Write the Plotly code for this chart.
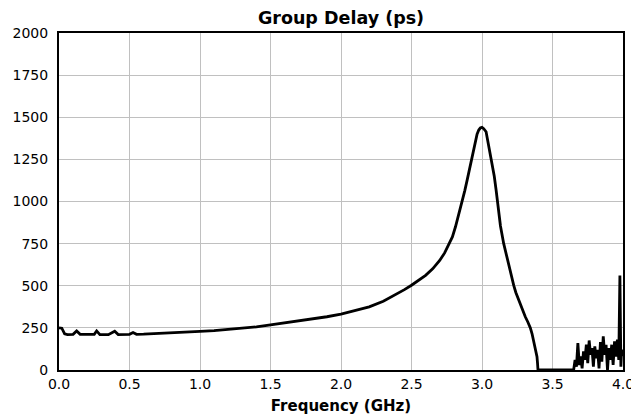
import plotly.graph_objects as go

# Main group-delay trace (frequency in GHz, delay in ps)
freq_main = [0.00, 0.02, 0.04, 0.06, 0.10, 0.125, 0.15, 0.20, 0.25, 0.267, 0.29, 0.35,
             0.395, 0.42, 0.50, 0.525, 0.55, 0.60, 0.70, 0.80, 0.90, 1.00, 1.10, 1.20,
             1.30, 1.40, 1.50, 1.60, 1.70, 1.80, 1.90, 2.00, 2.10, 2.20, 2.30, 2.40,
             2.45, 2.50, 2.55, 2.60, 2.65, 2.70, 2.735, 2.765, 2.79, 2.812, 2.835, 2.859,
             2.878, 2.895, 2.91, 2.925, 2.94, 2.953, 2.965, 2.977, 2.988, 3.00, 3.012,
             3.029, 3.045, 3.06, 3.073, 3.087, 3.10, 3.115, 3.131, 3.154, 3.17, 3.189,
             3.205, 3.225, 3.24, 3.26, 3.285, 3.307, 3.325, 3.343, 3.355, 3.366, 3.378,
             3.39, 3.394, 3.397, 3.50, 3.60, 3.64]
delay_main = [250, 248, 215, 210, 212, 232, 212, 210, 212, 232, 210, 210,
              230, 210, 212, 222, 212, 213, 216, 220, 225, 229, 234, 240,
              247, 256, 268, 279, 291, 303, 316, 332, 352, 375, 408, 452,
              477, 503, 530, 562, 600, 650, 695, 742, 790, 850, 920, 1000,
              1065, 1128, 1190, 1250, 1310, 1365, 1400, 1424, 1436, 1440, 1432,
              1414, 1345, 1286, 1225, 1150, 1068, 960, 855, 750, 690, 630,
              565, 502, 460, 415, 360, 316, 285, 250, 215, 178, 135,
              79, 40, 0, 0, 0, 0]

# Noisy tail above 3.65 GHz
freq_tail = [3.65, 3.66, 3.67, 3.68, 3.69, 3.70, 3.71, 3.72, 3.73, 3.74, 3.75, 3.76,
             3.77, 3.78, 3.79, 3.80, 3.81, 3.82, 3.83, 3.84, 3.85, 3.86, 3.87, 3.88,
             3.89, 3.90, 3.91, 3.92, 3.93, 3.94, 3.95, 3.96, 3.97, 3.978, 3.985, 3.99,
             4.00]
delay_tail = [0, 60, 20, 160, 30, 80, 10, 110, 60, 150, 40, 175,
              90, 130, 20, 140, 70, 120, 10, 165, 50, 200, 90, 150,
              0, 130, 60, 150, 30, 170, 80, 180, 60, 560, 20, 120,
              80]

x_ticks = [0.0, 0.5, 1.0, 1.5, 2.0, 2.5, 3.0, 3.5, 4.0]
y_ticks = [0, 250, 500, 750, 1000, 1250, 1500, 1750, 2000]

freq = freq_main + freq_tail
delay = delay_main + delay_tail

fig = go.Figure()
fig.add_trace(go.Scatter(x=freq, y=delay, mode="lines",
                         line=dict(color="black", width=2.8), showlegend=False))

font = "DejaVu Sans, Verdana, sans-serif"
fig.update_layout(
    width=639, height=419,
    margin=dict(l=51, r=24, t=25, b=57),
    paper_bgcolor="white", plot_bgcolor="white",
    font=dict(family=font, size=14, color="black"),
    title=dict(text="<b>Group Delay (ps)</b>", x=333 / 639, xanchor="center",
               y=1 - 10 / 419, yanchor="middle", font=dict(size=17.5, family=font)),
)
fig.update_xaxes(range=[0, 4.0], tickvals=x_ticks, ticktext=[f"{v:.1f}" for v in x_ticks],
                 showgrid=True, gridcolor="#c0c0c0", gridwidth=1,
                 showline=True, linecolor="black", linewidth=2, mirror=True,
                 ticks="", zeroline=False, automargin=False,
                 title=dict(text="<b>Frequency (GHz)</b>", font=dict(size=15), standoff=10))
fig.update_yaxes(range=[0, 2000], tickvals=y_ticks, ticktext=[str(v) for v in y_ticks],
                 showgrid=True, gridcolor="#c0c0c0", gridwidth=1,
                 showline=True, linecolor="black", linewidth=2, mirror=True,
                 ticks="", zeroline=False, automargin=False, ticklabelstandoff=6)

fig.write_html("out.html")
